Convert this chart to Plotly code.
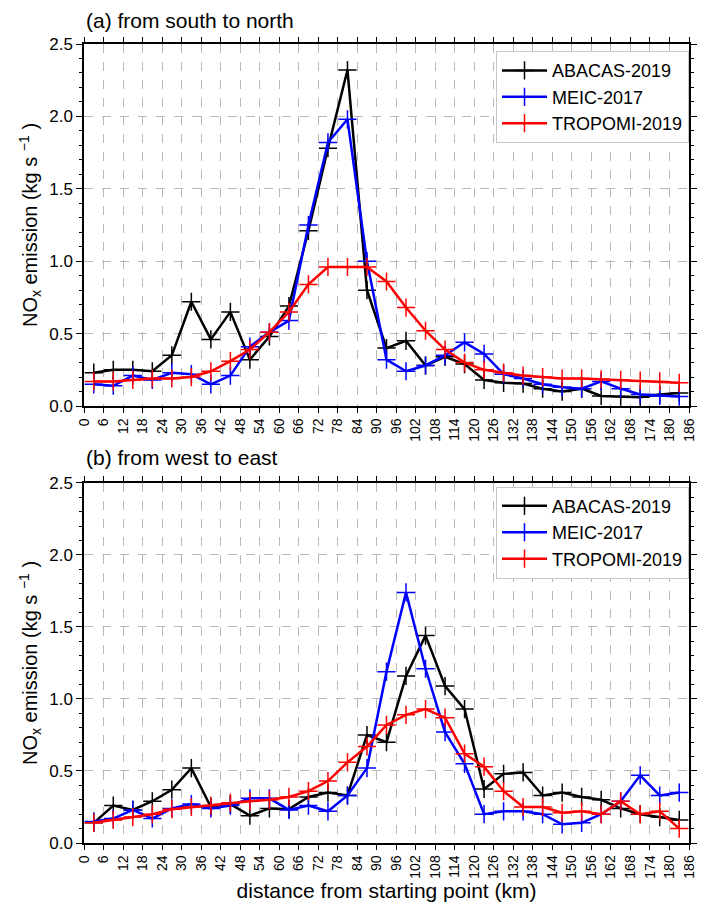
import plotly.graph_objects as go

km = [3 + 6 * i for i in range(31)]
x_ticks = list(range(0, 187, 6))

# Panel (a): from south to north
a_abacas = [0.23, 0.25, 0.25, 0.24, 0.35, 0.72, 0.46, 0.65, 0.32, 0.48, 0.69, 1.21, 1.78, 2.32, 0.80,
            0.40, 0.45, 0.28, 0.34, 0.29, 0.18, 0.16, 0.155, 0.12, 0.10, 0.12, 0.07, 0.065, 0.06, 0.08, 0.09]
a_meic = [0.15, 0.14, 0.21, 0.18, 0.23, 0.22, 0.15, 0.21, 0.41, 0.51, 0.59, 1.25, 1.82, 1.98, 1.00,
          0.32, 0.24, 0.28, 0.35, 0.44, 0.36, 0.22, 0.19, 0.15, 0.13, 0.12, 0.17, 0.12, 0.08, 0.07, 0.065]
a_tropomi = [0.17, 0.17, 0.18, 0.19, 0.19, 0.20, 0.24, 0.31, 0.39, 0.51, 0.65, 0.84, 0.96, 0.96, 0.96,
             0.86, 0.68, 0.52, 0.39, 0.30, 0.25, 0.23, 0.21, 0.20, 0.19, 0.19, 0.185, 0.18, 0.175, 0.17, 0.16]

# Panel (b): from west to east
b_abacas = [0.14, 0.26, 0.23, 0.29, 0.37, 0.52, 0.25, 0.27, 0.19, 0.24, 0.235, 0.32, 0.35, 0.33, 0.75,
            0.70, 1.16, 1.44, 1.09, 0.93, 0.375, 0.48, 0.49, 0.33, 0.35, 0.32, 0.30, 0.24, 0.20, 0.18, 0.16]
b_meic = [0.15, 0.17, 0.23, 0.17, 0.24, 0.27, 0.24, 0.26, 0.31, 0.31, 0.23, 0.26, 0.22, 0.33, 0.52,
          1.19, 1.74, 1.21, 0.77, 0.55, 0.20, 0.22, 0.22, 0.20, 0.13, 0.14, 0.20, 0.29, 0.47, 0.33, 0.35]
b_tropomi = [0.14, 0.16, 0.18, 0.20, 0.235, 0.25, 0.26, 0.28, 0.29, 0.30, 0.32, 0.36, 0.43, 0.56, 0.67,
             0.82, 0.89, 0.93, 0.87, 0.62, 0.53, 0.36, 0.25, 0.25, 0.21, 0.22, 0.20, 0.29, 0.20, 0.22, 0.10]

names = ["ABACAS-2019", "MEIC-2017", "TROPOMI-2019"]
colors = ["#000000", "#0000ff", "#ff0000"]

FONT = "Liberation Sans, Arial, sans-serif"

fig = go.Figure()

for series, xa, ya, leg in [((a_abacas, a_meic, a_tropomi), "x", "y", "legend"),
                            ((b_abacas, b_meic, b_tropomi), "x2", "y2", "legend2")]:
    for vals, name, col in zip(series, names, colors):
        fig.add_trace(go.Scatter(
            x=km, y=vals, name=name, mode="lines+markers",
            line=dict(color=col, width=2.5),
            marker=dict(symbol="cross-thin", size=13, line=dict(color=col, width=1.5), color=col),
            xaxis=xa, yaxis=ya, legend=leg,
        ))

def xaxis_cfg(anchor, title=None):
    d = dict(
        range=[0, 186], tickmode="array", tickvals=x_ticks, ticktext=[str(t) for t in x_ticks],
        tickangle=-90, tickfont=dict(size=14, family=FONT, color="black"),
        showgrid=True, gridcolor="#b8b8b8", griddash="dash", gridwidth=1,
        showline=True, linecolor="black", linewidth=1.5, mirror="ticks",
        ticks="outside", ticklen=5, tickcolor="black", zeroline=False, anchor=anchor,
    )
    if title:
        d["title"] = dict(text=title, font=dict(size=21, family=FONT, color="black"), standoff=4)
    return d

def yaxis_cfg(domain, anchor):
    return dict(
        domain=domain, range=[0, 2.5], tickmode="array", tickvals=[0, 0.5, 1.0, 1.5, 2.0, 2.5],
        ticktext=["0.0", "0.5", "1.0", "1.5", "2.0", "2.5"],
        tickfont=dict(size=17, family=FONT, color="black"),
        showgrid=True, gridcolor="#b8b8b8", griddash="dash", gridwidth=1,
        showline=True, linecolor="black", linewidth=1.5, mirror="ticks",
        ticks="outside", ticklen=6, tickcolor="black", zeroline=False, anchor=anchor,
        minor=dict(dtick=0.1, ticks="outside", ticklen=3, tickcolor="black", showgrid=False),
        title=dict(text="NO<sub>x</sub> emission (kg s <sup>−1</sup> )",
                   font=dict(size=20, family=FONT, color="black"), standoff=6),
    )

legend_common = dict(
    xanchor="right", yanchor="top", bgcolor="white", bordercolor="#c8c8c8", borderwidth=1,
    font=dict(size=18, family=FONT, color="black"), tracegroupgap=0, itemwidth=45,
)

fig.update_layout(
    width=705, height=905,
    margin=dict(l=84, r=8, t=44, b=62),
    paper_bgcolor="white", plot_bgcolor="white",
    font=dict(family=FONT, color="black"),
    xaxis=xaxis_cfg("y"),
    yaxis=yaxis_cfg([0.5469, 1.0], "x"),
    xaxis2=xaxis_cfg("y2", "distance from starting point (km)"),
    yaxis2=yaxis_cfg([0.0, 0.4506], "x2"),
    legend=dict(x=1.0, y=0.991, **legend_common),
    legend2=dict(x=1.0, y=0.446, **legend_common),
    annotations=[
        dict(text="(a) from south to north", x=0, y=1.030, xref="paper", yref="paper",
             xanchor="left", yanchor="middle", showarrow=False,
             font=dict(size=21, family=FONT, color="black")),
        dict(text="(b) from west to east", x=0, y=0.4819, xref="paper", yref="paper",
             xanchor="left", yanchor="middle", showarrow=False,
             font=dict(size=21, family=FONT, color="black")),
    ],
)

fig.write_html("out.html")
